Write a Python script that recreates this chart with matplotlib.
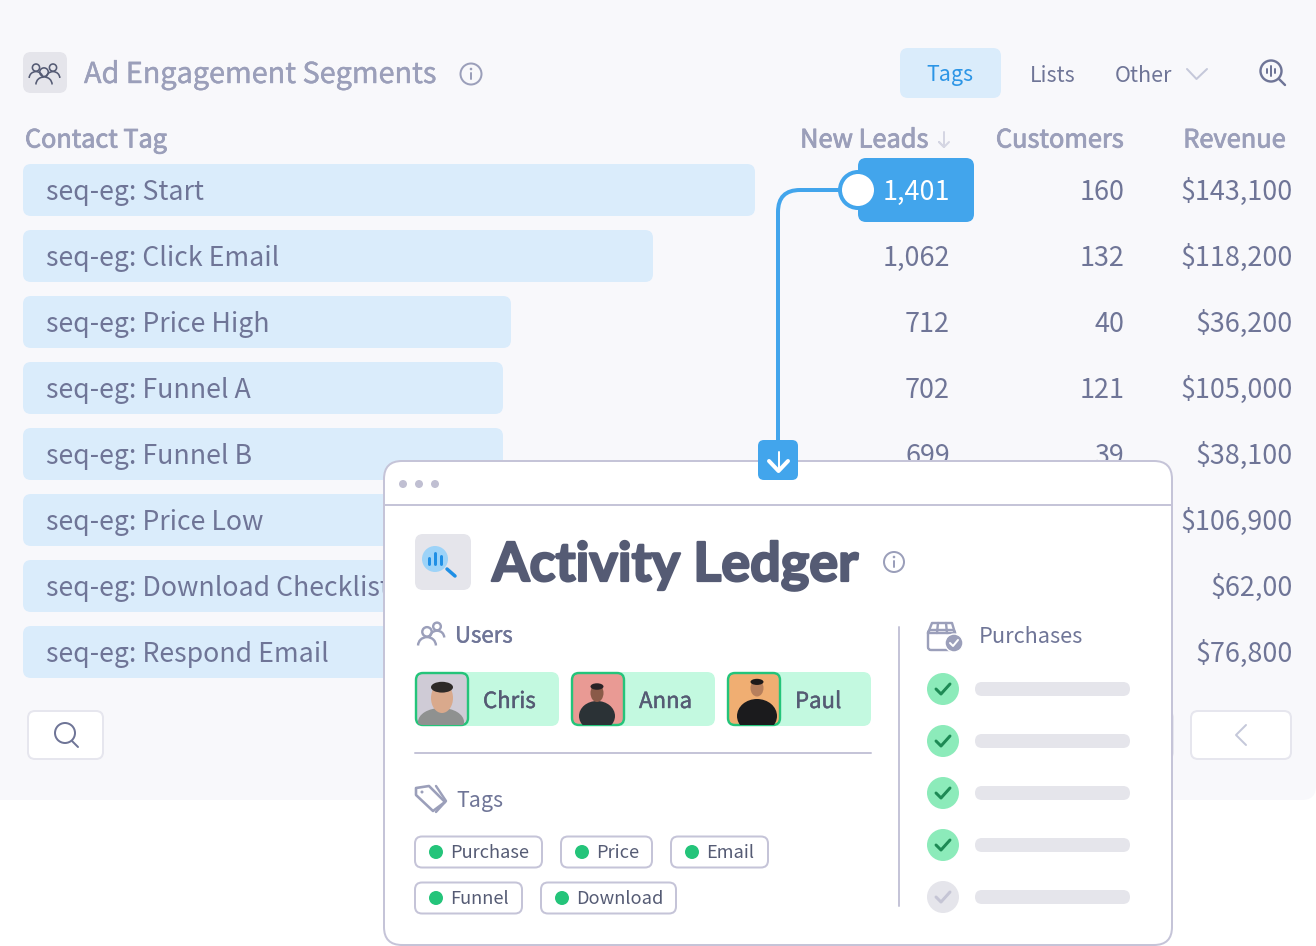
import matplotlib as mpl
mpl.use('Agg')
import matplotlib.pyplot as plt
import matplotlib.patheffects as pe
from matplotlib.patches import FancyBboxPatch, Circle, Ellipse, Arc, PathPatch, Polygon
from matplotlib.path import Path

plt.rcParams['font.family'] = ['Noto Sans CJK SC', 'DejaVu Sans']

# table data
tags = ["seq-eg: Start", "seq-eg: Click Email", "seq-eg: Price High", "seq-eg: Funnel A",
        "seq-eg: Funnel B", "seq-eg: Price Low", "seq-eg: Download Checklist", "seq-eg: Respond Email"]
bar_lengths = [732, 630, 488, 480, 480, 440, 420, 400]   # last three are hidden by the card, guessed
leads = ["1,401", "1,062", "712", "702", "699"]
customers = ["160", "132", "40", "121", "39"]
revenue = ["$143,100", "$118,200", "$36,200", "$105,000", "$38,100", "$106,900", "$62,00", "$76,800"]

user_names = ["Chris", "Anna", "Paul"]
user_bg = ["#CFCBD6", "#E99A94", "#F0AE72"]
user_hair = ["#2E2A28", "#2A2226", "#1E1A1A"]
user_skin = ["#D9A98C", "#8A5A48", "#B77F5C"]
user_top = ["#8F9190", "#2B3236", "#1B1B1D"]
# head centre offset, head w/h, body centre offset, body w/h inside each avatar
head_geom = [(27, 26, 22, 30), (26, 21, 13, 18), (30, 16, 13, 17)]
body_geom = [(26, 50, 46, 28), (26, 44, 36, 30), (30, 44, 40, 34)]

tag_pills = ["Purchase", "Price", "Email", "Funnel", "Download"]
pill_left = [415, 561, 671, 415, 541]
pill_right = [542, 652, 768, 522, 676]
pill_row = [852, 852, 852, 898, 898]

purchase_done = [True, True, True, True, False]

BLUE = "#42A5EC"
BAR = "#DAECFB"
TEXT = "#6F7597"
HEAD = "#9B9FBA"
DARK = "#555B74"
EDGE = "#C5C4D8"
GREY = "#E5E5EB"
px = 0.72  # pixels to points at 100 dpi

fig = plt.figure(figsize=(13.16, 9.46), dpi=100)
ax = fig.add_axes([0, 0, 1, 1])
ax.set_xlim(0, 1316)
ax.set_ylim(946, 0)
ax.axis('off')


def box(x0, y0, x1, y1, r, fc, ec='none', lw=0, z=1):
    p = FancyBboxPatch((x0, y0), x1 - x0, y1 - y0, boxstyle="round,pad=0,rounding_size=%g" % r,
                       fc=fc, ec=ec, lw=lw * px, zorder=z)
    ax.add_patch(p)
    return p


def txt(x, y, s, size, color=TEXT, ha='left', heavy=0, z=3, **kw):
    t = ax.text(x, y, s, fontsize=size * px, color=color, ha=ha, va='baseline', zorder=z, **kw)
    if heavy:
        # the installed weights jump from regular to bold, so thicken with a stroke
        t.set_path_effects([pe.withStroke(linewidth=heavy, foreground=color)])
    return t


def line(xs, ys, color, lw=2, z=3):
    ax.plot(xs, ys, color=color, lw=lw * px, solid_capstyle='round', solid_joinstyle='round', zorder=z)


def info(x, y, r, color, z=3):
    ax.add_patch(Circle((x, y), r, fc='none', ec=color, lw=2 * px, zorder=z))
    line([x, x], [y - 1, y + 5], color, 2, z)
    ax.add_patch(Circle((x, y - 5), 1.3, fc=color, ec='none', zorder=z))


def person(x, y, s, color, lw=2, z=3):
    ax.add_patch(Circle((x, y - 3 * s), 4.5 * s, fc='none', ec=color, lw=lw * px, zorder=z))
    ax.add_patch(Arc((x, y + 10 * s), 17 * s, 16 * s, theta1=180, theta2=360, ec=color, lw=lw * px, zorder=z))


# background panel
box(-20, -20, 1316, 800, 14, "#F8F8FB", z=0)

# header
box(23, 52, 67, 93, 8, GREY)
person(44, 75, 0.95, DARK, 1.6)
person(36, 70, 0.8, DARK, 1.6)
person(53, 70, 0.8, DARK, 1.6)
txt(84, 83, "Ad Engagement Segments", 28.8, HEAD, heavy=0.3)
info(471, 74, 10.5, HEAD)

box(900, 48, 1001, 98, 8, BAR)
txt(950, 80.5, "Tags", 21.5, "#2C95E6", ha='center')
txt(1053, 82.5, "Lists", 21.5, TEXT, ha='center')
txt(1114.5, 81.5, "Other", 21.5, TEXT)
line([1187, 1196.5, 1207], [69, 79, 69], "#C5C8DA", 2)
ax.add_patch(Circle((1271, 71), 10.5, fc='none', ec=TEXT, lw=2.4 * px, zorder=3))
line([1279, 1285], [79, 85], TEXT, 2.4)
for dx, h in zip([-4, 0, 4], [2, 5, 2]):
    line([1271 + dx, 1271 + dx], [71 - h, 71 + h], TEXT, 2)

# column heads
txt(25, 147.5, "Contact Tag", 25.2, HEAD, heavy=0.6)
txt(929, 147.5, "New Leads", 25.4, HEAD, ha='right', heavy=0.6)
line([944, 944, 939, 944, 949], [132, 147, 142, 147, 142], "#D5D6E3", 2)
txt(1124, 147.5, "Customers", 25.4, HEAD, ha='right', heavy=0.6)
txt(1286, 147.5, "Revenue", 25.4, HEAD, ha='right', heavy=0.6)

# rows
for i, name in enumerate(tags):
    yc = 190 + 66 * i
    box(23, yc - 26, 23 + bar_lengths[i], yc + 26, 8, BAR)
    txt(46, yc + 9.5, name, 26.7, TEXT)
    txt(1292.5, yc + 9.5, revenue[i], 27, TEXT, ha='right')
for i, v in enumerate(leads):
    yc = 190 + 66 * i
    if i == 0:
        box(858, 158, 974, 222, 8, BLUE)
        txt(950, yc + 9.5, v, 27, "white", ha='right', z=6)
    else:
        txt(950, yc + 9.5, v, 27, TEXT, ha='right')
    txt(1124.5, yc + 9.5, customers[i], 27, TEXT, ha='right')

# buttons under the table
box(28, 711, 103, 759, 7, "white", "#E6E6EE", 2)
ax.add_patch(Circle((65, 733), 10, fc='none', ec=TEXT, lw=2 * px, zorder=3))
line([72, 78], [741, 747], TEXT, 2)
box(1080, 711, 1173, 759, 7, "white", "#E6E6EE", 2)
box(1191, 711, 1291, 759, 7, "white", "#E6E6EE", 2)
line([1246, 1236, 1246], [725, 735, 745], "#C5C8DA", 2)

# connector from the highlighted cell to the card
conn = Path([(845, 190), (800, 190), (778, 190), (778, 212), (778, 445)],
            [Path.MOVETO, Path.LINETO, Path.CURVE3, Path.CURVE3, Path.LINETO])
ax.add_patch(PathPatch(conn, fc='none', ec=BLUE, lw=4 * px, zorder=4))
ax.add_patch(Circle((858, 190), 18, fc='white', ec=BLUE, lw=4 * px, zorder=5))

# card
box(384, 461, 1172, 945, 18, "white", EDGE, 2, z=10)
line([385, 1171], [505, 505], EDGE, 2, 11)
for x in [403, 419, 435]:
    ax.add_patch(Circle((x, 484), 4, fc="#C0BFD2", ec='none', zorder=11))
box(758, 440, 798, 480, 6, BLUE, z=12)
line([778.5, 778.5], [452, 471], "white", 2, 13)
line([769, 778.5, 788], [461, 471, 461], "white", 4, 13)

box(415, 534, 471, 590, 8, GREY, z=11)
ax.add_patch(Circle((435, 559), 13, fc="#9DD3F8", ec='none', zorder=12))
line([447, 455], [569, 576], "#1F8FE5", 3.5, 12)
for dx, y0 in zip([-6, 0, 6], [558, 553, 556]):
    line([435 + dx, 435 + dx], [y0, 564], "#1F8FE5", 3, 13)
txt(492, 581, "Activity Ledger", 54, DARK, heavy=1.6, z=11, family=['Lato', 'DejaVu Sans'], weight='bold')
info(894, 562, 10, HEAD, z=11)

# users
person(427, 635, 1.05, HEAD, 2.4, z=11)
person(437, 629, 0.85, HEAD, 2.4, z=11)
txt(455, 642.5, "Users", 22.2, TEXT, heavy=0.3, z=11)
for i, name in enumerate(user_names):
    x0 = 415 + 156 * i
    box(x0, 672, x0 + 144, 726, 8, "#C3F9E0", z=11)
    av = box(x0 + 1, 673, x0 + 53, 725, 7, user_bg[i], "#24C47A", 2.4, z=12)
    hx, hy, hw, hh = head_geom[i]
    bx, by, bw, bh = body_geom[i]
    parts = [Ellipse((x0 + bx, 672 + by), bw, bh, fc=user_top[i], ec='none', zorder=12.2),
             Ellipse((x0 + hx, 672 + hy), hw, hh, fc=user_skin[i], ec='none', zorder=12.3),
             Ellipse((x0 + hx, 672 + hy - hh * 0.36), hw, hh * 0.36, fc=user_hair[i], ec='none', zorder=12.4)]
    for part in parts:
        ax.add_patch(part)
        part.set_clip_path(av)
    txt(x0 + 68, 708, name, 22.2, DARK, heavy=0.3, z=12)
line([415, 871], [753, 753], EDGE, 2, 11)

# tags
tag_icon = Polygon([(416, 788), (429, 786), (445, 802), (433, 811), (416, 795)], closed=True,
                   fc='none', ec=HEAD, lw=2.6 * px, joinstyle='round', zorder=11)
ax.add_patch(tag_icon)
line([436, 446, 436], [786, 801, 812], HEAD, 2.4, 11)
ax.add_patch(Circle((422, 792), 1.5, fc=HEAD, ec='none', zorder=11))
txt(456.5, 806.5, "Tags", 21.5, TEXT, z=11)
for i, name in enumerate(tag_pills):
    box(pill_left[i], pill_row[i] - 15.5, pill_right[i], pill_row[i] + 15.5, 7, "white", EDGE, 2, z=11)
    ax.add_patch(Circle((pill_left[i] + 21, pill_row[i]), 7, fc="#24C47A", ec='none', zorder=12))
    txt(pill_left[i] + 35.5, pill_row[i] + 6, name, 18.2, DARK, z=12)

# purchases
line([899, 899], [627, 906], EDGE, 2, 11)
box(928, 630, 955, 650, 3, "white", HEAD, 2.4, z=11)
line([928, 932, 952, 955], [633, 623, 623, 633], HEAD, 2.4, 11)
line([928, 955], [633, 633], HEAD, 2.4, 11)
line([938, 937], [623, 633], HEAD, 2.4, 11)
line([946, 947], [623, 633], HEAD, 2.4, 11)
ax.add_patch(Circle((954, 643), 9, fc=HEAD, ec='white', lw=1, zorder=12))
line([950, 953, 958], [643, 646, 640], "white", 2, 13)
txt(979, 642.5, "Purchases", 21.7, TEXT, z=11)
for i, done in enumerate(purchase_done):
    yc = 689 + 52 * i
    ax.add_patch(Circle((943, yc), 16, fc="#8CEBBA" if done else GREY, ec='none', zorder=11))
    line([936, 941, 950], [yc, yc + 5, yc - 5], "#1E8A55" if done else "#C5C5D5", 3, 12)
    box(975, yc - 7, 1130, yc + 7, 7, GREY, z=11)

fig.savefig("out.png", dpi=100, facecolor="white")
